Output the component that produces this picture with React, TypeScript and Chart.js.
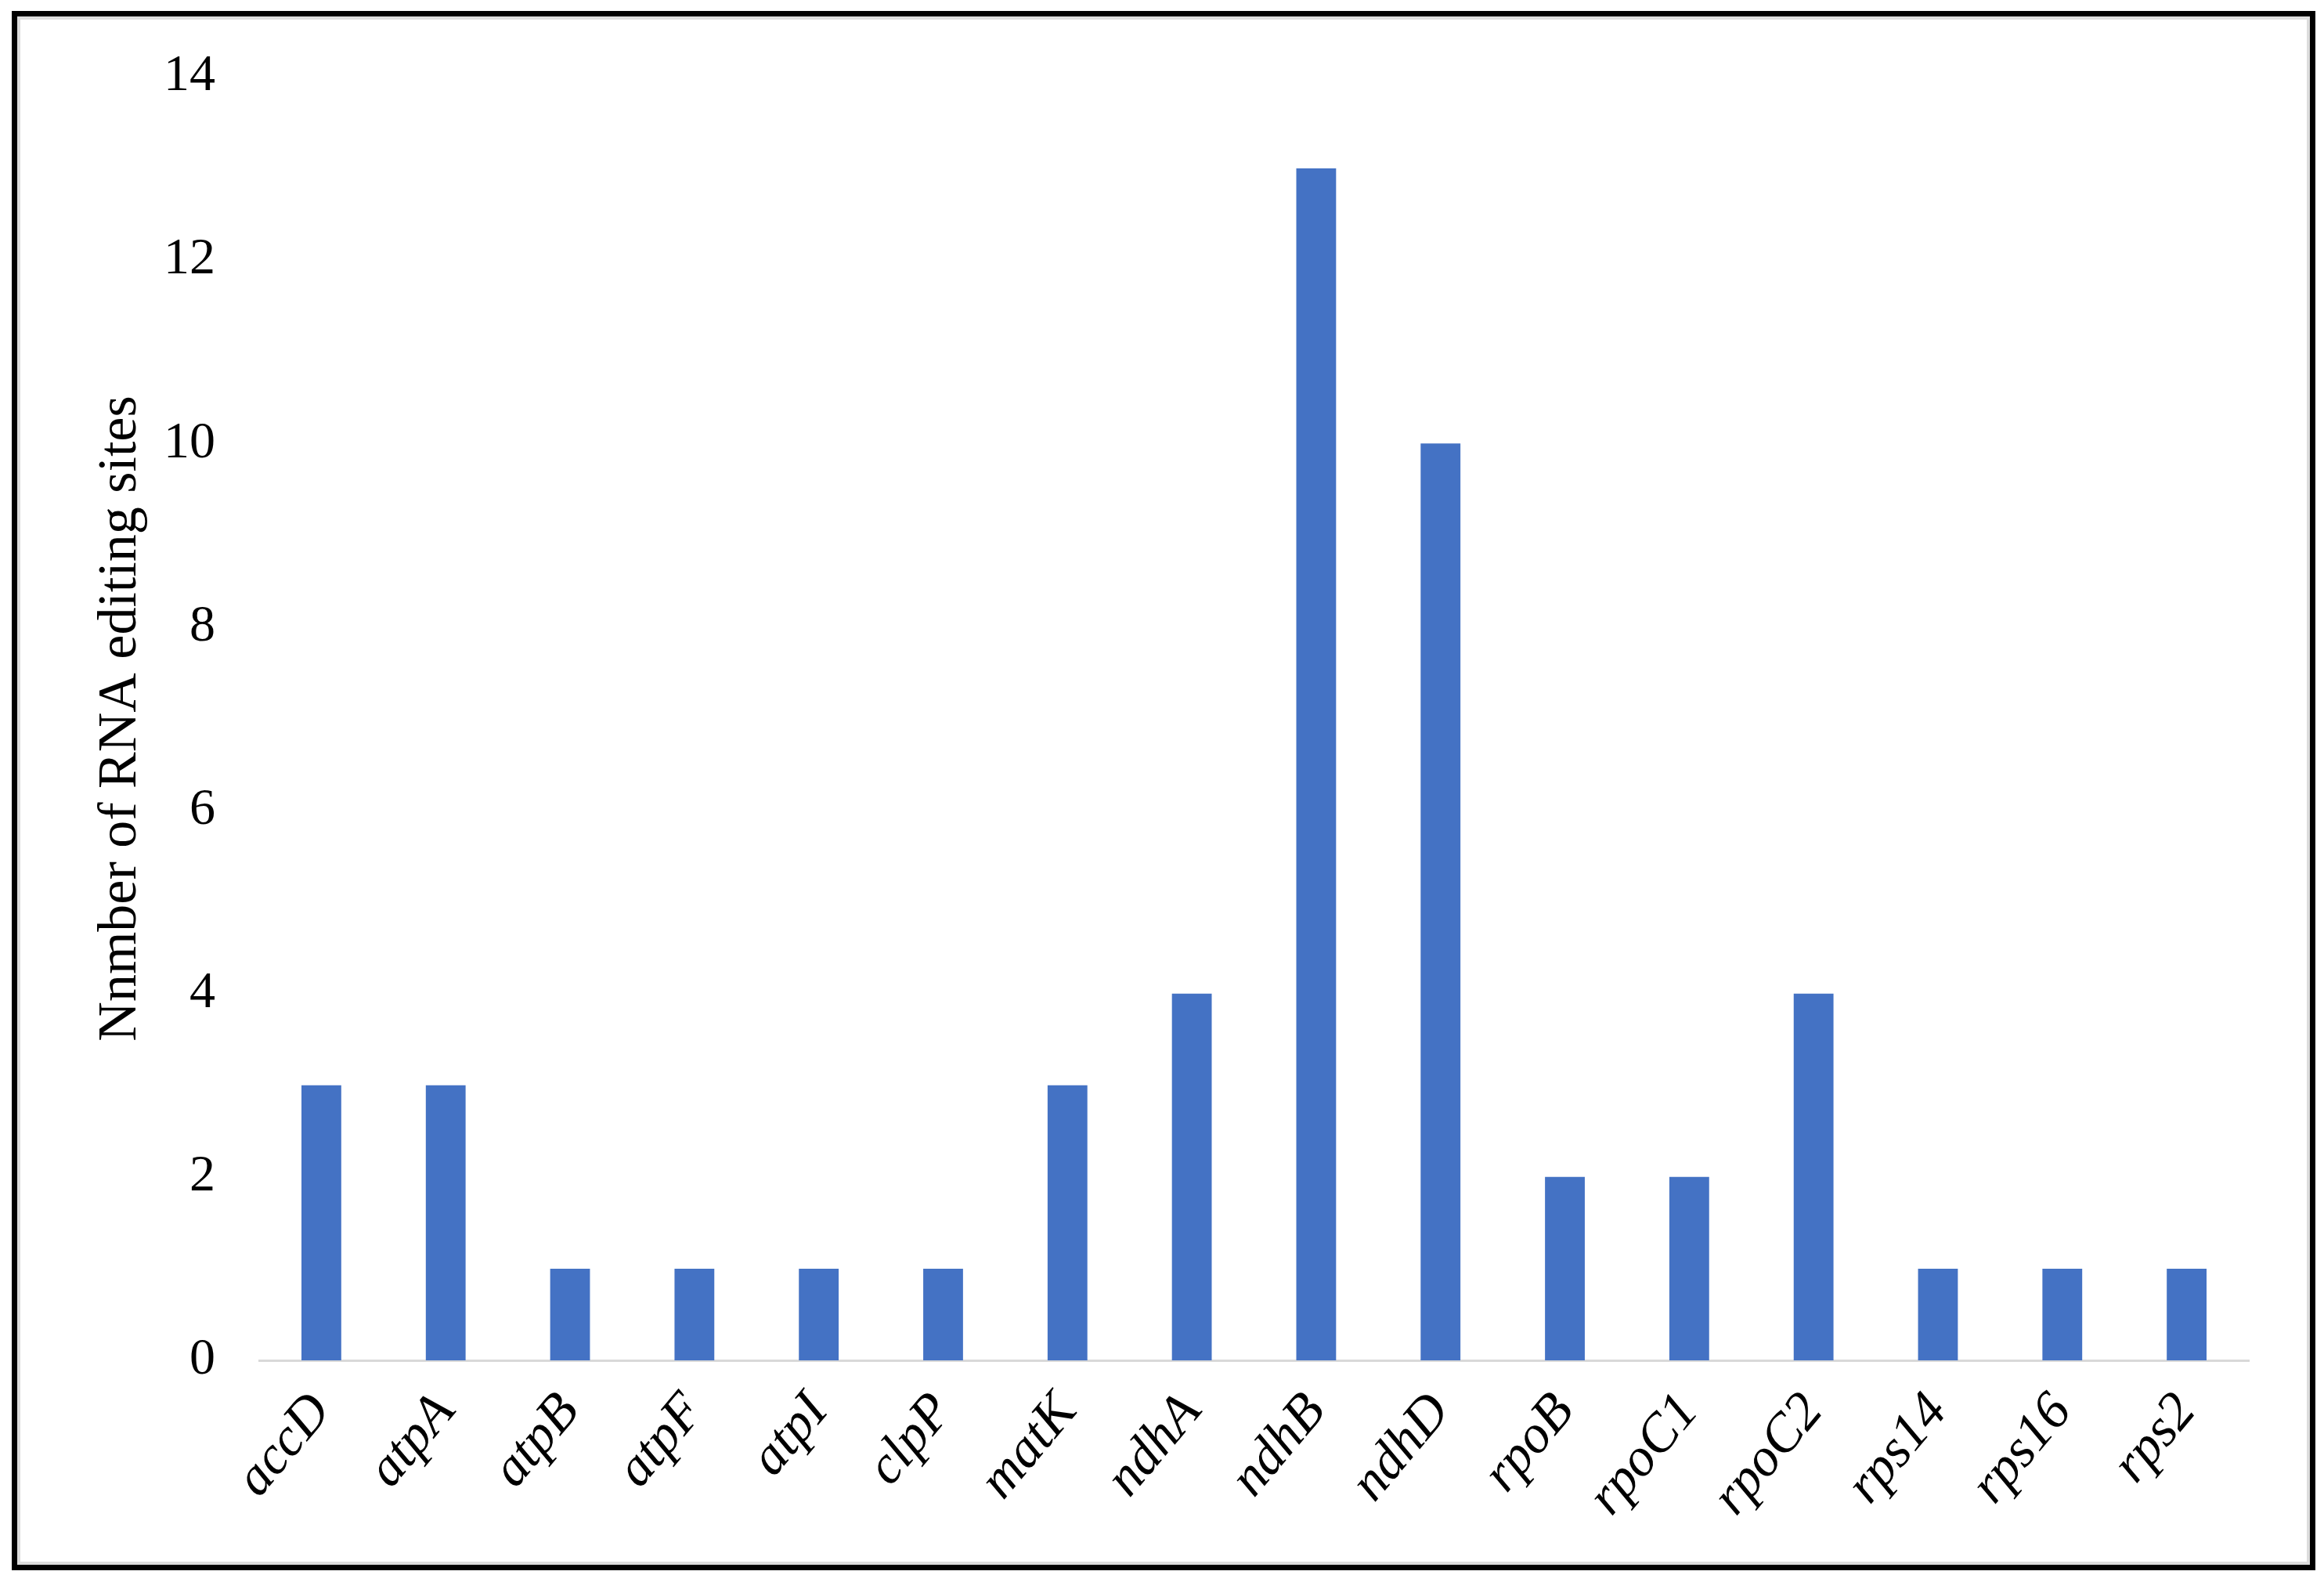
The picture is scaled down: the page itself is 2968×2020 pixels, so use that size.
import React, { useEffect, useRef } from "react";
import { Chart, registerables } from "chart.js";

Chart.register(...registerables);

const genes = ["accD", "atpA", "atpB", "atpF", "atpI", "clpP", "matK", "ndhA", "ndhB", "ndhD", "rpoB", "rpoC1", "rpoC2", "rps14", "rps16", "rps2"];
const editingSites = [3, 3, 1, 1, 1, 1, 3, 4, 13, 10, 2, 2, 4, 1, 1, 1];
const yTicks = [0, 2, 4, 6, 8, 10, 12, 14];
const yTitle = "Nnmber of RNA editing sites";

const W = 2968;
const H = 2020;
const BASE_Y = 1737;

export default function App() {
  const ref = useRef<HTMLCanvasElement | null>(null);

  useEffect(() => {
    document.body.style.margin = "0";
    document.body.style.overflow = "hidden";
    const canvas = ref.current;
    if (!canvas) return;
    const chart = new Chart(canvas, {
      type: "bar",
      data: {
        labels: genes,
        datasets: [
          {
            data: editingSites,
            backgroundColor: "#4472C4",
            borderWidth: 0,
            barPercentage: 0.32,
            categoryPercentage: 1,
          },
        ],
      },
      options: {
        animation: false,
        responsive: false,
        maintainAspectRatio: false,
        devicePixelRatio: 1,
        layout: { padding: { left: 90, top: 98, right: 96, bottom: 0 } },
        plugins: {
          legend: { display: false },
          tooltip: { enabled: false },
        },
        scales: {
          x: {
            grid: { display: false, drawTicks: false },
            border: { display: true, color: "#D9D9D9", width: 3 },
            ticks: {
              minRotation: 50,
              maxRotation: 50,
              autoSkip: false,
              padding: 27,
              color: "#000",
              font: { family: "'Liberation Serif', 'Times New Roman', serif", size: 69, style: "italic" },
            },
            afterFit: (s: any) => {
              s.height = H - BASE_Y;
            },
          },
          y: {
            min: 0,
            max: 14,
            afterBuildTicks: (s: any) => {
              s.ticks = yTicks.map((v) => ({ value: v }));
            },
            grid: { display: false, drawTicks: false },
            border: { display: false },
            ticks: {
              padding: 56,
              color: "#000",
              font: { family: "'Liberation Serif', 'Times New Roman', serif", size: 66 },
            },
            title: {
              display: true,
              text: yTitle,
              color: "#000",
              padding: { top: 23, bottom: 0 },
              font: { family: "'Liberation Serif', 'Times New Roman', serif", size: 70, weight: "normal" },
            },
            afterFit: (s: any) => {
              s.width = 331 - 90;
            },
          },
        },
      },
    });
    return () => chart.destroy();
  }, []);

  return (
    <div style={{ position: "absolute", left: 0, top: 0, width: W, height: H, background: "#fff", overflow: "hidden" }}>
      <div
        style={{
          position: "absolute",
          left: 15,
          top: 14,
          width: 2957 - 15,
          height: 2005 - 14,
          boxSizing: "border-box",
          border: "7px solid #000",
          boxShadow: "inset 0 0 0 4px #DCDCDC",
        }}
      />
      <canvas ref={ref} width={W} height={H} style={{ position: "absolute", left: 0, top: 0, width: W, height: H }} />
    </div>
  );
}
